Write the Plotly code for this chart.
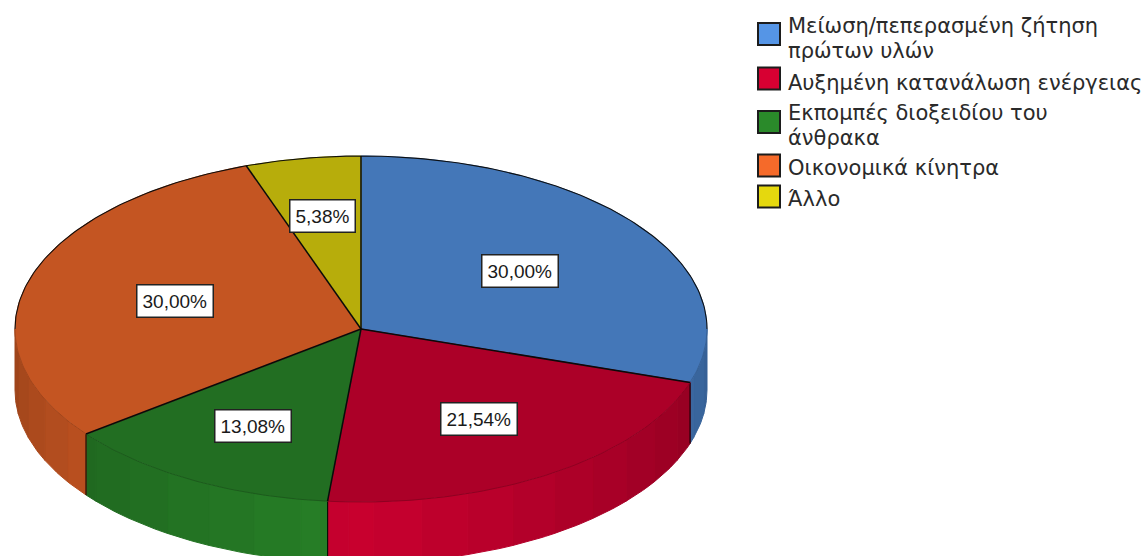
import math
import plotly.graph_objects as go

# --- data ---
categories = ["Μείωση/πεπερασμένη ζήτηση πρώτων υλών", "Αυξημένη κατανάλωση ενέργειας",
              "Εκπομπές διοξειδίου του άνθρακα", "Οικονομικά κίνητρα", "Άλλο"]
values = [30.00, 21.54, 13.08, 30.00, 5.38]
value_labels = ["30,00%", "21,54%", "13,08%", "30,00%", "5,38%"]
legend_lines = [["Μείωση/πεπερασμένη ζήτηση", "πρώτων υλών"], ["Αυξημένη κατανάλωση ενέργειας"],
                ["Εκπομπές διοξειδίου του", "άνθρακα"], ["Οικονομικά κίνητρα"], ["Άλλο"]]
colors = [(85, 149, 230), (215, 0, 50), (42, 138, 42), (245, 106, 42), (229, 216, 14)]

# --- layout constants ---
W, H = 1142, 556
CX, CY, RX, RY, DEPTH = 361, 329, 346, 173, 61
LABEL_R = [0.568, 0.62, 0.64, 0.56, 0.66]
SWATCH_X, SWATCH_SIZE = 769, 24
SWATCH_Y = [34, 78.5, 122, 165.5, 196.5]
TEXT_X = 786
LINE_Y = [[26, 51], [83], [113, 138], [168], [199]]
FONT = "Liberation Sans, Arial, sans-serif"
LEGEND_FONT = "DejaVu Sans, sans-serif"


def rgb(c, f=1.0):
    return "rgb(%d,%d,%d)" % tuple(min(255, round(v * f)) for v in c)


def pt(theta, dy=0.0, r=1.0):
    a = math.radians(theta)
    return CX + RX * r * math.sin(a), CY - RY * r * math.cos(a) + dy


def arc(t1, t2, dy=0.0):
    n = max(2, int(abs(t2 - t1)) + 2)
    return [pt(t1 + (t2 - t1) * i / (n - 1), dy) for i in range(n)]


def add_poly(fig, pts, fill=None, line=None, width=1.0, closed=True):
    xs, ys = zip(*pts)
    xs, ys = list(xs), list(ys)
    if closed:
        xs.append(xs[0]); ys.append(ys[0])
    fig.add_trace(go.Scatter(x=xs, y=ys, mode="lines", fill="toself" if fill else "none",
                             fillcolor=fill, line=dict(color=line or fill, width=width),
                             hoverinfo="skip", showlegend=False))


# slice angles, clockwise from 12 o'clock, from the values
total = sum(values)
angles = [0.0]
for v in values:
    angles.append(angles[-1] + 360 * v / total)

fig = go.Figure()

# side wall, in bands
grid = sorted({180 + s * (2 + 8 * k) for s in (-1, 1) for k in range(0, 12)})
for i, c in enumerate(colors):
    lo, hi = max(angles[i], 90), min(angles[i + 1], 270)
    if lo >= hi:
        continue
    edges = [lo] + [g for g in grid if lo < g < hi] + [hi]
    for a, b in zip(edges, edges[1:]):
        mid = (a + b) / 2
        f = 0.93 * (1 - 0.0035 * abs(mid - 180))
        add_poly(fig, arc(a, b) + arc(b, a, DEPTH), fill=rgb(c, f))

# vertical edges between slices on the wall
for a in angles[:-1]:
    if 90 < a < 270:
        add_poly(fig, [pt(a), pt(a, DEPTH)], line="rgba(0,0,0,0.85)", width=1.2, closed=False)

# top faces
for i, c in enumerate(colors):
    add_poly(fig, [(CX, CY)] + arc(angles[i], angles[i + 1]), fill=rgb(c, 0.8))

# front rim, faint; back rim, black
add_poly(fig, arc(90, 270), line="rgba(0,0,0,0.22)", width=0.8, closed=False)
add_poly(fig, arc(-90, 90), line="rgba(10,10,10,0.95)", width=1.1, closed=False)

# radii
for a in angles[:-1]:
    add_poly(fig, [(CX, CY), pt(a)], line="#0a0a0a", width=1.5, closed=False)

# legend swatches
for c, y in zip(colors, SWATCH_Y):
    fig.add_trace(go.Scatter(x=[SWATCH_X], y=[y], mode="markers", hoverinfo="skip", showlegend=False,
                             marker=dict(symbol="square", size=SWATCH_SIZE - 2, color=rgb(c),
                                         line=dict(color="#1c1c1c", width=2))))

annotations = []
# value labels
for i, (lab, r) in enumerate(zip(value_labels, LABEL_R)):
    x, y = pt((angles[i] + angles[i + 1]) / 2, r=r)
    annotations.append(dict(x=x, y=y, text=lab, showarrow=False, bgcolor="white",
                            bordercolor="#222222", borderwidth=1.5, borderpad=5,
                            font=dict(family=FONT, size=19, color="#1a1a1a")))
# legend text
for lines, ys in zip(legend_lines, LINE_Y):
    for t, y in zip(lines, ys):
        annotations.append(dict(x=TEXT_X, y=y, text=t, showarrow=False, xanchor="left", yanchor="middle",
                                font=dict(family=LEGEND_FONT, size=21, color="#2a2a2a")))

fig.update_layout(width=W, height=H, margin=dict(l=0, r=0, t=0, b=0), autosize=False,
                  paper_bgcolor="white", plot_bgcolor="white", showlegend=False,
                  annotations=annotations,
                  xaxis=dict(range=[0, W], visible=False, fixedrange=True),
                  yaxis=dict(range=[H, 0], visible=False, fixedrange=True))

fig.write_html("out.html", config={"displayModeBar": False},
               post_script="document.body.style.margin='0';document.body.style.overflow='hidden';")
